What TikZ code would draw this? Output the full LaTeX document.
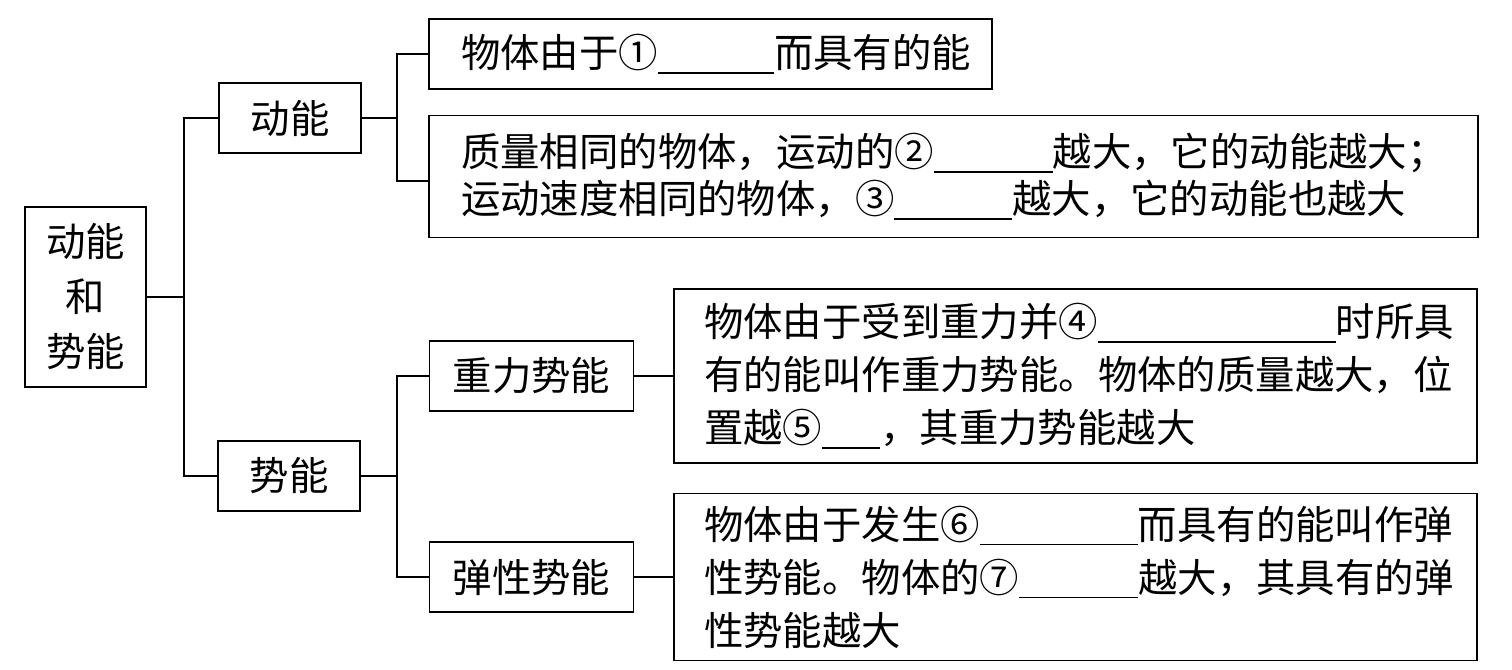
\documentclass[tikz,border=0pt]{standalone}
\usepackage{fontspec}
\setmainfont{Noto Sans CJK SC}
\usepackage{tikz}
\usetikzlibrary{positioning}
\tikzstyle{box} = [draw, line width=0.8pt, inner sep=0pt, align=center, font=\fontsize{19.7pt}{27.5pt}\selectfont]
\tikzstyle{textbox} = [draw, line width=0.8pt, inner xsep=16pt, inner ysep=0pt, align=left, font=\fontsize{19.7pt}{26.5pt}\selectfont]
\tikzstyle{link} = [line width=0.8pt]
\newcommand{\blank}[1]{\rule[-0.15em]{#1}{0.6pt}}
\hfuzz=80pt
\hbadness=10000

\begin{document}
\begin{tikzpicture}[x=0.5pt,y=-0.5pt]
	\useasboundingbox (0,0) rectangle (1512,670);

	%Nodes
	\node[box, minimum width=60.5pt, minimum height=90pt] (root) at (85.5,297) {动能\\和\\势能};
	\node[box, minimum width=71pt, minimum height=35pt] (ke) at (290,118) {动能};
	\node[box, minimum width=71pt, minimum height=35pt] (pe) at (289,476) {势能};
	\node[box, minimum width=102pt, minimum height=35pt] (gpe) at (531.5,376) {重力势能};
	\node[box, minimum width=102pt, minimum height=35pt] (epe) at (531.5,577) {弹性势能};

	%TextNodes
	\node[textbox, text width=249.5pt, minimum height=35pt] (def) at (710.5,54)
		{物体由于①\blank{58pt}而具有的能};
	\node[textbox, text width=492.5pt, minimum height=61pt, font=\fontsize{19.7pt}{23.5pt}\selectfont] (fac) at (953.5,176.5)
		{质量相同的物体，运动的②\blank{59.5pt}越大，它的动能越大；\\
		 运动速度相同的物体，③\blank{59pt}越大，它的动能也越大};
	\node[textbox, inner xsep=15pt, text width=371.5pt, minimum height=87pt] (gtxt) at (1075.5,376)
		{物体由于受到重力并④\blank{119pt}时所具\\
		 有的能叫作重力势能。物体的质量越大，位\\
		 置越⑤\blank{29pt}，其重力势能越大};
	\node[textbox, inner xsep=15pt, text width=371.5pt, minimum height=83.5pt] (etxt) at (1075.5,577)
		{物体由于发生⑥\blank{79pt}而具有的能叫作弹\\
		 性势能。物体的⑦\blank{59.5pt}越大，其具有的弹\\
		 性势能越大};

	%Lines
	\draw[link] (root.east) -- ++(37,0) coordinate (trunk) |- (ke.west);
	\draw[link] (trunk) |- (pe.west);
	\draw[link] (ke.east) -- ++(35,0) coordinate (keSplit) |- (def.west);
	\draw[link] (keSplit) |- ([yshift=-2.25pt]fac.west);
	\draw[link] (pe.east) -- ++(36,0) coordinate (peSplit) |- (gpe.west);
	\draw[link] (peSplit) |- (epe.west);
	\draw[link] (gpe.east) -- (gtxt.west);
	\draw[link] (epe.east) -- (etxt.west);
\end{tikzpicture}
\end{document}
